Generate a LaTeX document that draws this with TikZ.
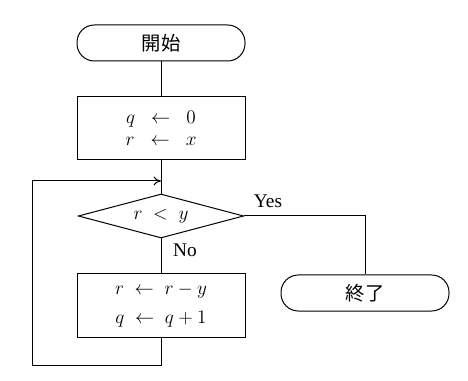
\documentclass[tikz,border=0pt]{standalone}
\usepackage{amsmath,amssymb}
\usepackage{fontspec}
\setmainfont{Liberation Serif}
\newfontfamily\jp{Noto Sans CJK JP}
\usetikzlibrary{positioning,arrows.meta,shapes.geometric}

\begin{document}
\begin{tikzpicture}[x=0.75pt,y=-0.75pt,>={To[length=2mm,width=2.4mm]},
  line width=0.75pt,
  terminal/.style={draw,rectangle,rounded corners=13pt,minimum width=126pt,minimum height=27pt,inner sep=0pt,font=\jp\fontsize{14.5pt}{17pt}\selectfont},
  procbox/.style={draw,rectangle,minimum width=126pt,minimum height=47pt,align=center,inner sep=0pt,font=\fontsize{14pt}{16.5pt}\selectfont},
  decision/.style={draw,diamond,aspect=3.75,minimum width=124pt,minimum height=33pt,inner sep=0pt,font=\fontsize{14pt}{16.5pt}\selectfont},
  caption/.style={font=\fontsize{14.5pt}{17pt}\selectfont}]
\useasboundingbox (0,0) rectangle (468,381);
\node[terminal] (start) at (161,43) {開始};
\node[procbox] (init) at (161,128) {$q\;\;\leftarrow\;\;0$\\$r\;\;\leftarrow\;\;x$};
\coordinate (merge) at (161,181);
\node[decision] (test) at (161,216) {$r\;\mathrel{<}\;y$};
\node[procbox,minimum height=47.5pt] (update) at (161,305.5) {$r\;\leftarrow\;r-y$\\[5pt]$q\;\leftarrow\;q+1$};
\node[terminal] (stop) at (365,293) {終了};
\coordinate (loopbl) at (32,365);
\draw (start) -- (init);
\draw (init) -- (test);
\draw (test) -- (update);
\node[caption] (no) at (185,250) {No};
\draw (test.east) -- (test.east -| stop) -- (stop.north);
\node[caption] (yes) at (268,201) {Yes};
\draw[->] (update.south) |- (loopbl) |- (merge);
\end{tikzpicture}
\end{document}
